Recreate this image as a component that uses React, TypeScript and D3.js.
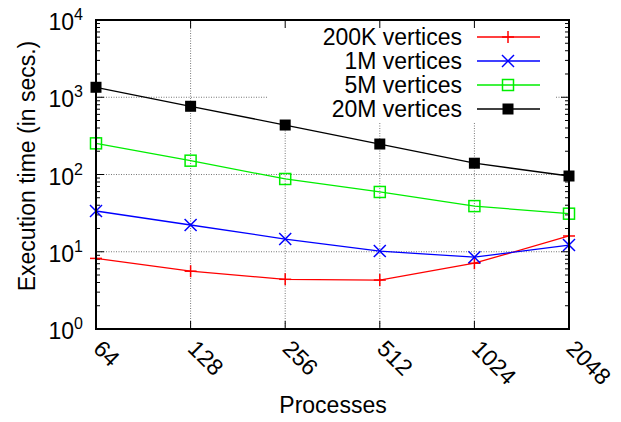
import React, { useEffect, useRef } from 'react'
import * as d3 from 'd3'

// processes on the x axis, times in seconds on a log y axis
const processes = ['64', '128', '256', '512', '1024', '2048']
const v200K = [8.2, 5.6, 4.4, 4.3, 7.1, 16.0]
const v1M = [33.7, 22.2, 14.6, 10.2, 8.5, 12.2]
const v5M = [253, 151, 87.5, 59.4, 39, 31.1]
const v20M = [1346, 764, 437, 248, 140, 95.6]
const yTickExps = [0, 1, 2, 3, 4]
const seriesNames = ['200K vertices', '1M vertices', '5M vertices', '20M vertices']

export default function App() {
  const ref = useRef<SVGSVGElement>(null)

  useEffect(() => {
    const width = 621
    const height = 422
    const margin = { top: 20, right: 52, bottom: 93, left: 96 }
    const font = 'Liberation Sans, Arial, Helvetica, sans-serif'
    const fs = 23

    const svg = d3.select(ref.current)
    svg.selectAll('*').remove()

    const x = d3.scalePoint<string>()
      .domain(processes)
      .range([margin.left, width - margin.right])
    const y = d3.scaleLog()
      .domain([1, 10000])
      .range([height - margin.bottom, margin.top])

    const x0 = margin.left, x1 = width - margin.right
    const y0 = height - margin.bottom, y1 = margin.top

    // grid
    const grid = svg.append('g')
      .attr('stroke', '#777')
      .attr('stroke-width', 1)
      .attr('stroke-dasharray', '1,1.5')
    grid.selectAll('line.v')
      .data(processes.slice(1, -1))
      .join('line')
      .attr('class', 'v')
      .attr('x1', d => x(d)!).attr('x2', d => x(d)!)
      .attr('y1', y0).attr('y2', y1)
    grid.selectAll('line.h')
      .data(yTickExps.slice(1, -1))
      .join('line')
      .attr('class', 'h')
      .attr('x1', x0).attr('x2', x1)
      .attr('y1', d => y(Math.pow(10, d))).attr('y2', d => y(Math.pow(10, d)))

    // legend background hides the grid behind it
    svg.append('rect')
      .attr('x', 268).attr('y', y1 + 1)
      .attr('width', 288).attr('height', 102)
      .attr('fill', 'white')

    // ticks
    const ticks = svg.append('g').attr('stroke', 'black').attr('stroke-width', 1)
    const minor: number[] = []
    for (let e = 0; e < 4; e++) for (let m = 2; m < 10; m++) minor.push(m * Math.pow(10, e))
    minor.forEach(v => {
      ticks.append('line').attr('x1', x0).attr('x2', x0 + 4).attr('y1', y(v)).attr('y2', y(v))
      ticks.append('line').attr('x1', x1).attr('x2', x1 - 4).attr('y1', y(v)).attr('y2', y(v))
    })
    yTickExps.forEach(e => {
      const v = Math.pow(10, e)
      ticks.append('line').attr('x1', x0).attr('x2', x0 + 8).attr('y1', y(v)).attr('y2', y(v))
      ticks.append('line').attr('x1', x1).attr('x2', x1 - 8).attr('y1', y(v)).attr('y2', y(v))
    })
    processes.forEach(p => {
      ticks.append('line').attr('x1', x(p)!).attr('x2', x(p)!).attr('y1', y0).attr('y2', y0 - 8)
      ticks.append('line').attr('x1', x(p)!).attr('x2', x(p)!).attr('y1', y1).attr('y2', y1 + 8)
    })

    // y tick labels 10^n
    yTickExps.forEach(e => {
      const t = svg.append('text')
        .attr('x', 83).attr('y', y(Math.pow(10, e)) + 10)
        .attr('text-anchor', 'end')
        .attr('font-family', font).attr('font-size', fs)
      t.append('tspan').text('10')
      t.append('tspan').attr('dy', -10).attr('font-size', 16).text(String(e))
    })

    // x tick labels, rotated
    svg.append('g')
      .selectAll('text')
      .data(processes)
      .join('text')
      .attr('transform', d => `translate(${x(d)! - 4},${y0 + 21}) rotate(45)`)
      .attr('font-family', font).attr('font-size', fs)
      .text(d => d)

    // axis titles
    svg.append('text')
      .attr('transform', `translate(35,166) rotate(-90)`)
      .attr('text-anchor', 'middle')
      .attr('font-family', font).attr('font-size', fs)
      .text('Execution time (in secs.)')
    svg.append('text')
      .attr('x', 333).attr('y', 413)
      .attr('text-anchor', 'middle')
      .attr('font-family', font).attr('font-size', fs)
      .text('Processes')

    const series = [
      { name: seriesNames[0], values: v200K, color: '#ff0000', mark: 'plus' },
      { name: seriesNames[1], values: v1M, color: '#0000ff', mark: 'cross' },
      { name: seriesNames[2], values: v5M, color: '#00ee00', mark: 'open' },
      { name: seriesNames[3], values: v20M, color: '#000000', mark: 'filled' },
    ]

    const drawMark = (g: any, mark: string, color: string, cx: number, cy: number) => {
      const s = 6
      if (mark === 'plus') {
        g.append('line').attr('x1', cx - s).attr('x2', cx + s).attr('y1', cy).attr('y2', cy).attr('stroke', color).attr('stroke-width', 1.5)
        g.append('line').attr('x1', cx).attr('x2', cx).attr('y1', cy - s).attr('y2', cy + s).attr('stroke', color).attr('stroke-width', 1.5)
      } else if (mark === 'cross') {
        g.append('line').attr('x1', cx - s).attr('x2', cx + s).attr('y1', cy - s).attr('y2', cy + s).attr('stroke', color).attr('stroke-width', 1.5)
        g.append('line').attr('x1', cx - s).attr('x2', cx + s).attr('y1', cy + s).attr('y2', cy - s).attr('stroke', color).attr('stroke-width', 1.5)
      } else if (mark === 'open') {
        g.append('rect').attr('x', cx - 5.5).attr('y', cy - 5.5).attr('width', 11).attr('height', 11)
          .attr('fill', 'none').attr('stroke', color).attr('stroke-width', 1.5)
      } else {
        g.append('rect').attr('x', cx - 5.5).attr('y', cy - 5.5).attr('width', 11).attr('height', 11)
          .attr('fill', color)
      }
    }

    const line = d3.line<number>()
      .x((d, i) => x(processes[i])!)
      .y(d => y(d))

    series.forEach(s => {
      const g = svg.append('g')
      g.append('path')
        .attr('d', line(s.values))
        .attr('fill', 'none')
        .attr('stroke', s.color)
        .attr('stroke-width', 1.3)
      s.values.forEach((v, i) => drawMark(g, s.mark, s.color, x(processes[i])!, y(v)))
    })

    // legend
    series.forEach((s, i) => {
      const ly = 37 + i * 24
      svg.append('text')
        .attr('x', 462).attr('y', ly + 8)
        .attr('text-anchor', 'end')
        .attr('font-family', font).attr('font-size', fs)
        .text(s.name)
      const g = svg.append('g')
      g.append('line').attr('x1', 477).attr('x2', 540).attr('y1', ly).attr('y2', ly)
        .attr('stroke', s.color).attr('stroke-width', 1.3)
      drawMark(g, s.mark, s.color, 508, ly)
    })

    // border
    svg.append('rect')
      .attr('x', x0).attr('y', y1)
      .attr('width', x1 - x0).attr('height', y0 - y1)
      .attr('fill', 'none').attr('stroke', 'black').attr('stroke-width', 2)
  }, [])

  return (
    <svg ref={ref} width={621} height={422}
      style={{ position: 'absolute', left: 0, top: 0, background: 'white' }} />
  )
}
